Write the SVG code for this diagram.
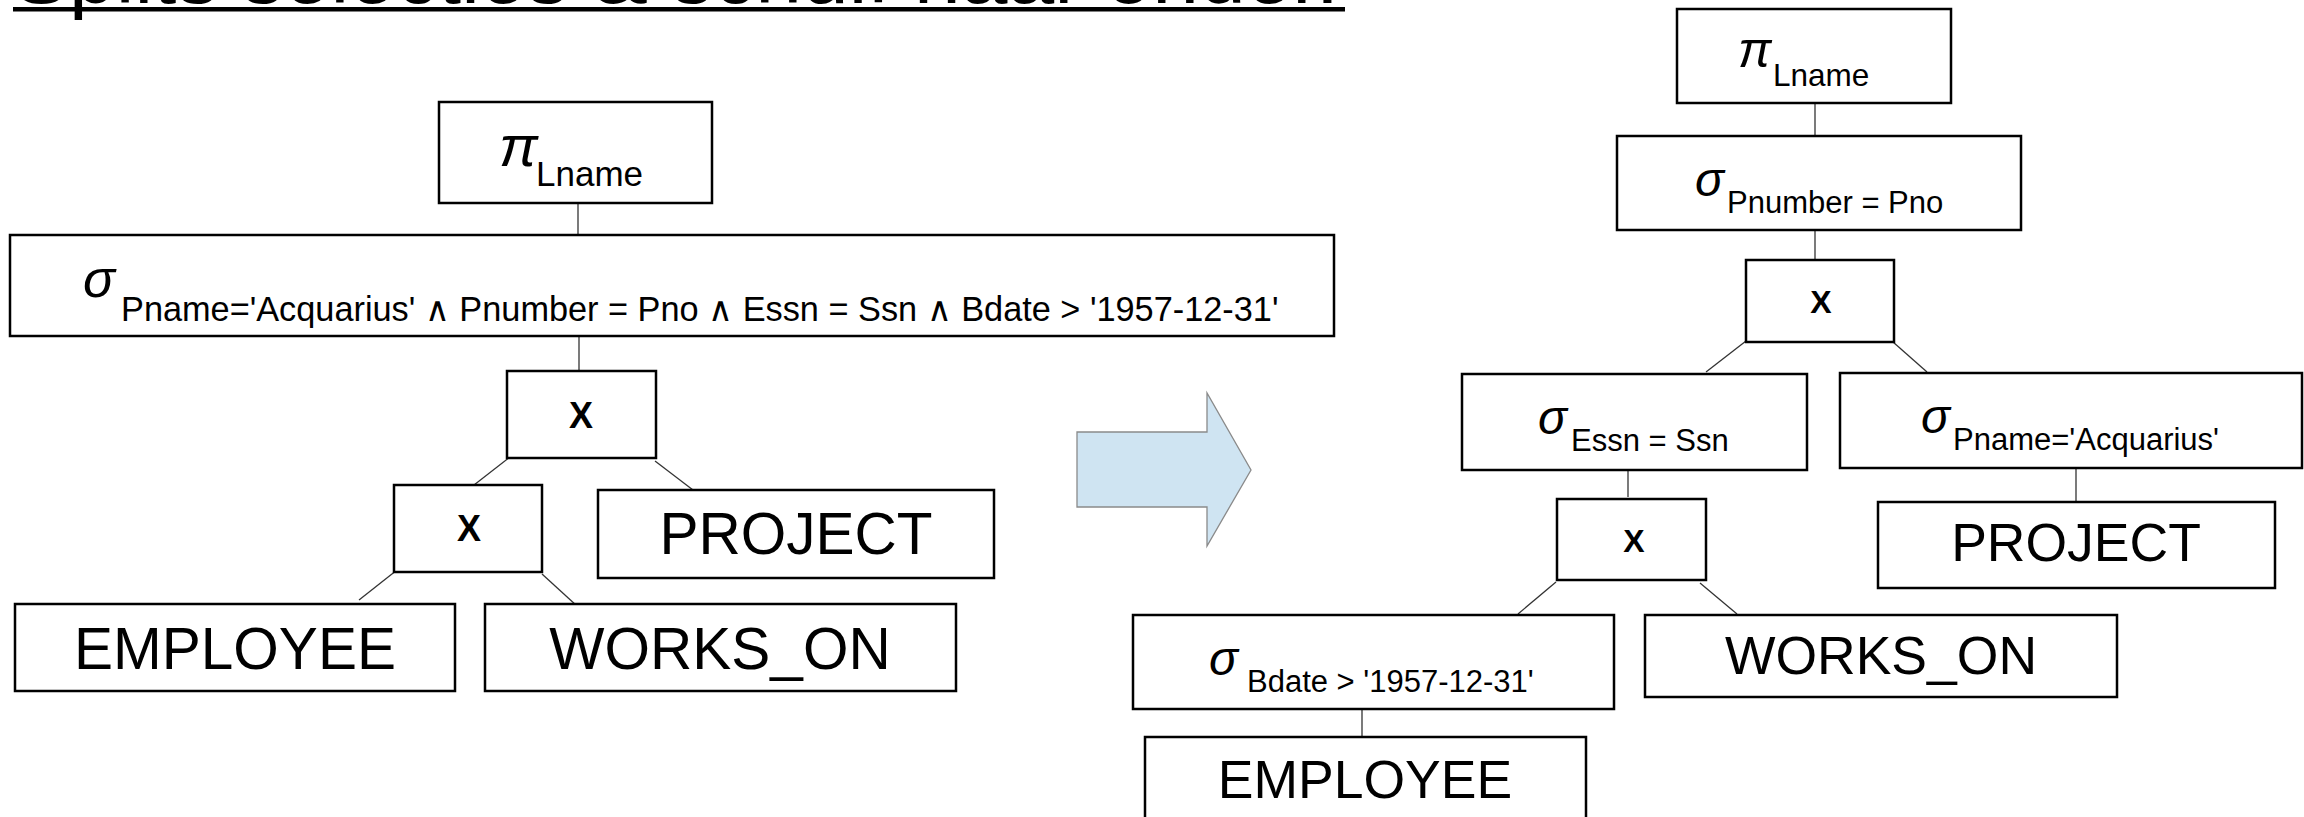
<svg xmlns="http://www.w3.org/2000/svg" width="2304" height="817" viewBox="0 0 2304 817">
<style>
.box{fill:#fff;stroke:#000;stroke-width:2.5}
.con line{stroke:#333;stroke-width:1.3}
.t{font-family:"Liberation Sans",Arial,sans-serif;fill:#000}
.g{font-family:"Liberation Sans",Arial,sans-serif;font-style:italic;fill:#000}
.x{font-family:"Liberation Sans",Arial,sans-serif;font-weight:bold;fill:#000;text-anchor:middle}
.rel{font-family:"Liberation Sans",Arial,sans-serif;fill:#000;text-anchor:middle}
</style>
<rect width="2304" height="817" fill="#fff"/>
<g id="title">
<text class="t" x="13" y="3" font-size="84">Splits selecties &amp; schuif naar onder.</text>
<rect x="13" y="7" width="1332" height="4.5" fill="#000"/>
</g>
<g id="arrow">
<polygon points="1077,432 1207,432 1207,393 1251,470 1207,546 1207,507 1077,507" fill="#cfe4f2" stroke="#8a8a8a" stroke-width="1.3"/>
</g>
<g class="con" id="connectors">
<line x1="578" y1="203" x2="578" y2="235"/>
<line x1="579" y1="336" x2="579" y2="371"/>
<line x1="510" y1="457" x2="474" y2="485"/>
<line x1="655" y1="461" x2="693" y2="490"/>
<line x1="397" y1="570" x2="359" y2="600"/>
<line x1="542" y1="574" x2="577" y2="606"/>
<line x1="1815" y1="103" x2="1815" y2="136"/>
<line x1="1815" y1="230" x2="1815" y2="260"/>
<line x1="1746" y1="341" x2="1706" y2="372"/>
<line x1="1893" y1="342" x2="1927" y2="372"/>
<line x1="1628" y1="470" x2="1628" y2="497"/>
<line x1="2076" y1="468" x2="2076" y2="501"/>
<line x1="1556" y1="582" x2="1518" y2="614"/>
<line x1="1700" y1="583" x2="1737" y2="614"/>
<line x1="1362" y1="710" x2="1362" y2="737"/>
</g>
<g id="L_pi">
<rect class="box" x="439" y="102" width="273" height="101"/>
<text class="g" x="499" y="166" font-size="58">π</text>
<text class="t" x="536" y="186" font-size="35">Lname</text>
</g>
<g id="L_sigma">
<rect class="box" x="10" y="235" width="1324" height="101"/>
<text class="g" x="83" y="297" font-size="53">σ</text>
<text class="t" x="121" y="321" font-size="34.3">Pname='Acquarius' ∧ Pnumber = Pno ∧ Essn = Ssn ∧ Bdate &gt; '1957-12-31'</text>
</g>
<g id="L_cross1">
<rect class="box" x="507" y="371" width="149" height="87"/>
<text class="x" x="581" y="428" font-size="36">X</text>
</g>
<g id="L_cross2">
<rect class="box" x="394" y="485" width="148" height="87"/>
<text class="x" x="469" y="541" font-size="36">X</text>
</g>
<g id="L_project">
<rect class="box" x="598" y="490" width="396" height="88"/>
<text class="rel" x="796" y="554" font-size="58.5">PROJECT</text>
</g>
<g id="L_employee">
<rect class="box" x="15" y="604" width="440" height="87"/>
<text class="rel" x="235" y="669" font-size="58.5">EMPLOYEE</text>
</g>
<g id="L_works">
<rect class="box" x="485" y="604" width="471" height="87"/>
<text class="rel" x="720" y="669" font-size="58.5">WORKS_ON</text>
</g>
<g id="R_pi">
<rect class="box" x="1677" y="9" width="274" height="94"/>
<text class="g" x="1738" y="67" font-size="50">π</text>
<text class="t" x="1773" y="86" font-size="31.5">Lname</text>
</g>
<g id="R_sigma_pnumber">
<rect class="box" x="1617" y="136" width="404" height="94"/>
<text class="g" x="1695" y="196" font-size="48">σ</text>
<text class="t" x="1727" y="213" font-size="31">Pnumber = Pno</text>
</g>
<g id="R_cross1">
<rect class="box" x="1746" y="260" width="148" height="82"/>
<text class="x" x="1821" y="313" font-size="32">X</text>
</g>
<g id="R_sigma_essn">
<rect class="box" x="1462" y="374" width="345" height="96"/>
<text class="g" x="1538" y="434" font-size="48">σ</text>
<text class="t" x="1571" y="451" font-size="31">Essn = Ssn</text>
</g>
<g id="R_sigma_pname">
<rect class="box" x="1840" y="373" width="462" height="95"/>
<text class="g" x="1921" y="433" font-size="48">σ</text>
<text class="t" x="1953" y="450" font-size="31">Pname='Acquarius'</text>
</g>
<g id="R_cross2">
<rect class="box" x="1557" y="499" width="149" height="81"/>
<text class="x" x="1634" y="552" font-size="32">X</text>
</g>
<g id="R_project">
<rect class="box" x="1878" y="502" width="397" height="86"/>
<text class="rel" x="2076" y="561" font-size="53.5">PROJECT</text>
</g>
<g id="R_sigma_bdate">
<rect class="box" x="1133" y="615" width="481" height="94"/>
<text class="g" x="1209" y="675" font-size="48">σ</text>
<text class="t" x="1247" y="692" font-size="31">Bdate &gt; '1957-12-31'</text>
</g>
<g id="R_works">
<rect class="box" x="1645" y="615" width="472" height="82"/>
<text class="rel" x="1881" y="674" font-size="53.5">WORKS_ON</text>
</g>
<g id="R_employee">
<rect class="box" x="1145" y="737" width="441" height="100"/>
<text class="rel" x="1365" y="798" font-size="53.5">EMPLOYEE</text>
</g>
</svg>
